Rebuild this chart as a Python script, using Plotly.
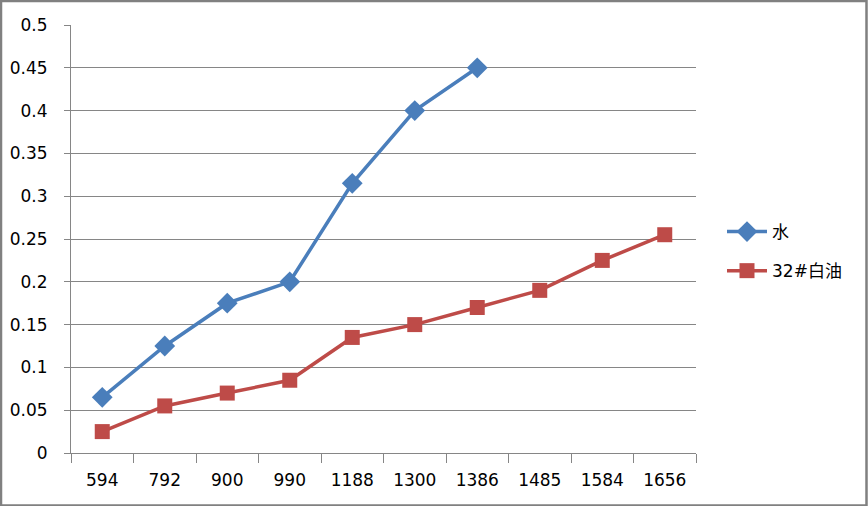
import plotly.graph_objects as go

categories = ["594", "792", "900", "990", "1188", "1300", "1386", "1485", "1584", "1656"]
water = [0.065, 0.125, 0.175, 0.2, 0.315, 0.4, 0.45]
oil = [0.025, 0.055, 0.07, 0.085, 0.135, 0.15, 0.17, 0.19, 0.225, 0.255]
y_ticks = [0, 0.05, 0.1, 0.15, 0.2, 0.25, 0.3, 0.35, 0.4, 0.45, 0.5]
y_labels = ["0", "0.05", "0.1", "0.15", "0.2", "0.25", "0.3", "0.35", "0.4", "0.45", "0.5"]

W, H = 868, 506
L, R, T, B = 71, 172, 25, 53
pw, ph = W - L - R, H - T - B

fig = go.Figure()
fig.add_trace(go.Scatter(
    x=categories[:len(water)], y=water, name="水", mode="lines+markers",
    legendgroup="a",
    line=dict(color="#4A7EBB", width=3.5),
    marker=dict(symbol="diamond", size=16, color="#4A7EBB"),
))
fig.add_trace(go.Scatter(
    x=categories, y=oil, name="32#白油", mode="lines+markers",
    legendgroup="b",
    line=dict(color="#BE4B48", width=3.5),
    marker=dict(symbol="square", size=15, color="#BE4B48"),
))

def px(xp):
    return (xp - L) / pw

def py(yp):
    return (H - B - yp) / ph

fig.add_shape(type="rect", xref="paper", yref="paper",
              x0=px(1), x1=px(W - 1.5), y0=py(H - 0.5), y1=py(1),
              line=dict(color="#808080", width=2.5), layer="above")

fig.update_layout(
    width=W, height=H,
    margin=dict(l=L, r=R, t=T, b=B, autoexpand=False),
    paper_bgcolor="white", plot_bgcolor="white",
    font=dict(family="DejaVu Sans, Noto Sans CJK SC", size=17, color="#000000"),
    showlegend=True,
    legend=dict(x=px(722), y=py(214), xanchor="left", yanchor="top",
                font=dict(size=17), tracegroupgap=14, itemwidth=40,
                bgcolor="rgba(0,0,0,0)"),
    xaxis=dict(type="category", categoryorder="array", categoryarray=categories,
               range=[-0.5, len(categories) - 0.5], automargin=False,
               tickson="boundaries", ticks="outside", ticklen=9, tickcolor="#868686",
               showline=True, linecolor="#868686", linewidth=1,
               showgrid=False, ticklabelstandoff=12),
    yaxis=dict(range=[0, 0.5], tickvals=y_ticks, ticktext=y_labels, automargin=False,
               ticks="outside", ticklen=6, tickcolor="#868686",
               showline=True, linecolor="#868686", linewidth=1,
               showgrid=True, gridcolor="#868686", gridwidth=1,
               zeroline=False, ticklabelstandoff=13),
)

fig.write_html("out.html")
